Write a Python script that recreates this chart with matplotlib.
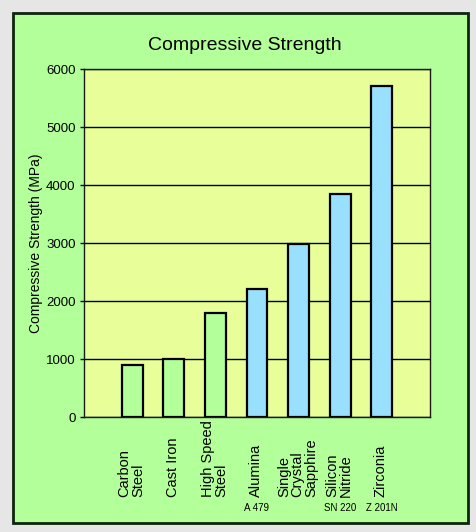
import matplotlib.pyplot as plt
from matplotlib.patches import Rectangle

materials = ["Carbon\nSteel", "Cast Iron", "High Speed\nSteel", "Alumina",
             "Single\nCrystal\nSapphire", "Silicon\nNitride", "Zirconia"]
grades = ["", "", "", "A 479", "", "SN 220", "Z 201N"]
strength = [900, 1000, 1790, 2200, 2980, 3850, 5700]
is_ceramic = [False, False, False, True, True, True, True]

GREEN = "#b3ff99"
BLUE = "#99e0ff"
PLOT_BG = "#e8ff99"

plt.rcParams['font.family'] = ['Liberation Sans', 'DejaVu Sans']

fig = plt.figure(figsize=(4.76, 5.32), dpi=100)
fig.patch.set_facecolor("#e6e6e6")

# green panel with dark frame
panel = Rectangle((13 / 476, 9 / 532), 455 / 476, 510 / 532, transform=fig.transFigure,
                  facecolor=GREEN, edgecolor="#0d260d", linewidth=2, zorder=-10)
fig.patches.append(panel)

ax = fig.add_axes([84 / 476, 115 / 532, 346 / 476, 348 / 532])
ax.set_facecolor(PLOT_BG)

x = range(len(materials))
colors = [BLUE if c else GREEN for c in is_ceramic]
ax.bar(x, strength, width=0.5, color=colors, edgecolor="black", linewidth=1.6, zorder=3)

ax.set_ylim(0, 6000)
ax.set_xlim(-1.16, len(materials) - 1 + 1.16)
ax.set_yticks(range(0, 6001, 1000))
ax.yaxis.grid(True, color="black", linewidth=1.0, zorder=1)
ax.set_axisbelow(True)
ax.tick_params(axis='y', length=3, width=1, labelsize=9.5, pad=3)
ax.tick_params(axis='x', length=0, labelbottom=False)
for s in ax.spines.values():
    s.set_linewidth(1.0)
    s.set_color("#1a1a1a")

ax.set_ylabel("Compressive Strength (MPa)", fontsize=10, labelpad=2)

# rotated category labels, text ending near the bottom
for i, name in enumerate(materials):
    ax.annotate(name, xy=(i, 0), xycoords=('data', 'axes fraction'),
                xytext=(-1, -80), textcoords='offset pixels',
                rotation=90, ha='center', va='bottom', multialignment='left',
                fontsize=10.5, linespacing=0.95, annotation_clip=False)
    if grades[i]:
        ax.annotate(grades[i], xy=(i, 0), xycoords=('data', 'axes fraction'),
                    xytext=(0, -91), textcoords='offset pixels',
                    ha='center', va='center', fontsize=7, annotation_clip=False)

fig.text(245 / 476, 1 - 45 / 532, "Compressive Strength", ha='center', va='center',
         fontsize=14)

fig.savefig("out.png", dpi=100, facecolor=fig.get_facecolor())
